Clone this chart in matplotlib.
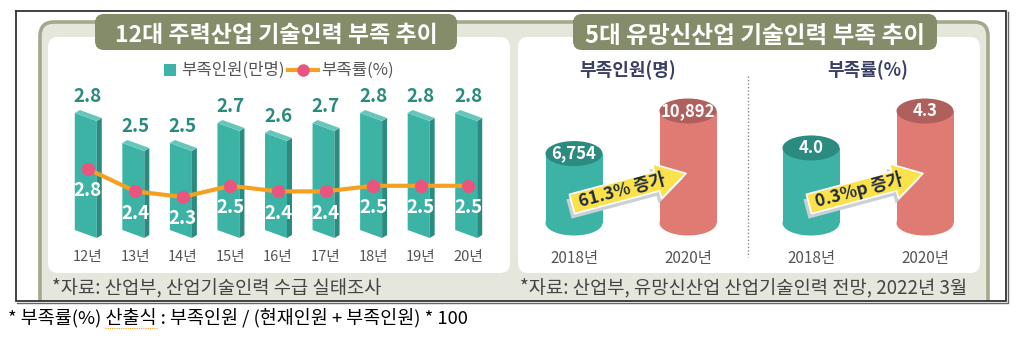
import numpy as np
import matplotlib
matplotlib.use("Agg")
import matplotlib.pyplot as plt
from matplotlib.patches import Polygon, Rectangle, FancyBboxPatch, Ellipse

plt.rcParams['font.family'] = ['Noto Sans CJK KR', 'DejaVu Sans']

# 12대 주력산업 기술인력 부족 추이
years = ['12년', '13년', '14년', '15년', '16년', '17년', '18년', '19년', '20년']
shortage = [2.8, 2.5, 2.5, 2.7, 2.6, 2.7, 2.8, 2.8, 2.8]   # 부족인원(만명)
rate = [2.8, 2.4, 2.3, 2.5, 2.4, 2.4, 2.5, 2.5, 2.5]       # 부족률(%)

# 5대 유망신산업 기술인력 부족 추이
new_years = ['2018년', '2020년']
new_people = [6754, 10892]      # 부족인원(명)
new_rate = [4.0, 4.3]           # 부족률(%)
people_change = '61.3% 증가'
rate_change = '0.3%p 증가'

W, H = 1024, 342
fig = plt.figure(figsize=(W / 100, H / 100), dpi=100)


def box(x0, y0, x1, y1):
    return [x0 / W, 1 - y1 / H, (x1 - x0) / W, (y1 - y0) / H]


teal, teal_side, teal_top, teal_txt = '#3cb3a5', '#2b8b80', '#66c6b9', '#2b8a7e'
red, red_top = '#e07b74', '#b0605c'
olive, olive_edge, panel_bg = '#858c69', '#a3a98a', '#e5e7dc'
gray_txt = '#555555'

# background: frame, panel, banners
bg = fig.add_axes([0, 0, 1, 1])
bg.set_xlim(0, W)
bg.set_ylim(H, 0)
bg.axis('off')

clip = Rectangle((16, 11), 990, 290, fill=False, ec='none')
bg.add_patch(clip)

panel = FancyBboxPatch((40, 22), 948, 300, boxstyle='round,pad=0,rounding_size=14',
                       fc=panel_bg, ec=olive_edge, lw=2.6)
bg.add_patch(panel)
panel.set_clip_path(clip)
for x0 in [48, 518]:
    bg.add_patch(FancyBboxPatch((x0, 37), 462, 236, boxstyle='round,pad=0,rounding_size=10',
                                fc='white', ec='none'))

titles = ['12대 주력산업 기술인력 부족 추이', '5대 유망신산업 기술인력 부족 추이']
sizes = [16.5, 17]
for (x0, x1), t, fs in zip([(95, 457), (573, 937)], titles, sizes):
    bg.add_patch(FancyBboxPatch((x0, 14), x1 - x0, 36, boxstyle='round,pad=0,rounding_size=9',
                                fc=olive, ec='none'))
    bg.add_patch(Rectangle((x0, 20), x1 - x0, 12, fc=olive, ec='none'))
    bg.text((x0 + x1) / 2, 36, t, ha='center', va='center', color='white',
            fontsize=fs, fontweight='bold')

# outer frame
bg.plot([16, 1006, 1006, 16, 16], [11, 11, 301, 301, 11], color='#333333', lw=1.3,
        zorder=20, solid_joinstyle='miter')
bg.plot([17, 1007.5, 1007.5], [302.5, 302.5, 12], color='#666666', lw=1, zorder=20)

# legend
bg.add_patch(Rectangle((164, 64), 12, 12, fc=teal, ec='none'))
bg.text(181, 70, '부족인원(만명)', ha='left', va='center', fontsize=12, color=gray_txt)
bg.plot([288, 318], [70, 70], color='#f4a020', lw=3)
bg.plot([303], [70], 'o', color='#e9557e', ms=8)
bg.text(321, 70, '부족률(%)', ha='left', va='center', fontsize=12, color=gray_txt)

# subtitles + divider
bg.text(628, 70, '부족인원(명)', ha='center', va='center', fontsize=13,
        fontweight='bold', color='#3a3f66')
bg.text(868, 70, '부족률(%)', ha='center', va='center', fontsize=13,
        fontweight='bold', color='#3a3f66')
bg.plot([748, 748], [76, 257], color='#888888', lw=1, ls=(0, (1, 1.5)))

# sources
bg.text(52, 288, '*자료: 산업부, 산업기술인력 수급 실태조사', ha='left', va='center',
        fontsize=13.5, color='#444444')
bg.text(520, 288, '*자료: 산업부, 유망신산업 산업기술인력 전망, 2022년 3월', ha='left',
        va='center', fontsize=13.5, color='#444444')

# footnote
bg.text(8, 318, '* 부족률(%) 산출식 : 부족인원 / (현재인원 + 부족인원) * 100', ha='left',
        va='center', fontsize=13.3, color='black')
bg.plot([105, 157], [328, 328], color='#f0a030', lw=0.8, ls=(0, (1, 1)))

# ---- 12대 bars ----
ax = fig.add_axes(box(64, 80, 492, 240))
ax.patch.set_visible(False)
ax.set_xlim(-0.5, 8.5)
ax.set_ylim(1.5, 3.1)
for s in ax.spines.values():
    s.set_visible(False)
ax.set_yticks([])
ax.set_xticks(range(len(years)))
ax.set_xticklabels(years, fontsize=10.5, color=gray_txt)
ax.tick_params(axis='x', length=0, pad=7)

ux = 9 / 428
uy = 1.6 / 160
base = 1.6
for i, v in enumerate(shortage):
    def p(dx, dy, top=True):
        return (i + dx * ux, (v if top else base) - dy * uy)
    ax.add_patch(Polygon([p(-13, 3), p(9, 11), p(9, 8, False), p(-13, 0, False)],
                         closed=True, fc=teal, ec='none'))
    ax.add_patch(Polygon([p(9, 11), p(14, 8), p(14, 5, False), p(9, 8, False)],
                         closed=True, fc=teal_side, ec='none'))
    ax.add_patch(Polygon([p(-13, 3), p(-8, 0), p(14, 8), p(9, 11)],
                         closed=True, fc=teal_top, ec='none'))
    ax.annotate(f'{v:.1f}', (i, v), xytext=(0, 13), textcoords='offset pixels',
                ha='center', va='center', color=teal_txt, fontsize=13.5, fontweight='bold')

rx = ax.twinx()
rx.set_ylim(1.532, 4.389)
rx.axis('off')
rx.plot(range(len(rate)), rate, color='#f4a020', lw=3, zorder=3)
rx.plot(range(len(rate)), rate, 'o', color='#e9557e', ms=8.5, zorder=4)
for i, r in enumerate(rate):
    rx.annotate(f'{r:.1f}', (i, r), xytext=(0, -22), textcoords='offset pixels',
                ha='center', va='center', color='white', fontsize=13.5, fontweight='bold')


# ---- 5대 cylinders ----
def cylinders(pos, vals, ylim, base, labels):
    cx = fig.add_axes(box(*pos))
    cx.set_xlim(-0.5, 1.5)
    cx.set_ylim(*ylim)
    cx.axis('off')
    upp = (ylim[1] - ylim[0]) / 170
    eh = 25 * upp
    for i, v in enumerate(vals):
        body, top = (teal, teal_side) if i == 0 else (red, red_top)
        cx.add_patch(Ellipse((i, base), 0.5, eh, fc=body, ec='none'))
        cx.add_patch(Rectangle((i - 0.25, base), 0.5, v - base, fc=body, ec='none'))
        cx.add_patch(Ellipse((i, v), 0.5, eh, fc=top, ec='none'))
        cx.text(i, v, labels[i], ha='center', va='center', color='white',
                fontsize=12, fontweight='bold')
        cx.annotate(new_years[i], (i, 0), xycoords=('data', 'axes fraction'),
                    xytext=(0, -8), textcoords='offset pixels', ha='center', va='center',
                    fontsize=11, color=gray_txt)
    return cx


cylinders((517, 80, 745, 250), new_people, (-2626, 13907), 0,
          [f'{v:,}' for v in new_people])
cylinders((754, 80, 982, 250), new_rate, (3.171, 4.552), 3.39,
          [f'{v:.1f}' for v in new_rate])

# ---- arrows ----
fg = fig.add_axes([0, 0, 1, 1], zorder=5)
fg.set_xlim(0, W)
fg.set_ylim(H, 0)
fg.axis('off')


def arrow(x0, y0, text, ang=15, L=118, h=10, hh=18, hl=30):
    a = np.deg2rad(ang)
    u = np.array([np.cos(a), -np.sin(a)])
    n = np.array([np.sin(a), np.cos(a)])
    loc = [(0, -h), (L - hl, -h), (L - hl, -hh), (L, 0), (L - hl, hh), (L - hl, h), (0, h)]
    pts = np.array([[x0, y0] + s * u + t * n for s, t in loc])
    fg.add_patch(Polygon(pts + [-3, 5], closed=True, fc='#c9d0d8', ec='none'))
    fg.add_patch(Polygon(pts, closed=True, fc='#fbe24b', ec='white', lw=1.2, joinstyle='round'))
    c = np.array([x0, y0]) + 0.44 * L * u
    fg.text(c[0], c[1], text, ha='center', va='center', rotation=ang, rotation_mode='anchor',
            fontsize=12.5, fontweight='bold', color='#1f2a44')


arrow(572, 204, people_change)
arrow(809, 204, rate_change)

fig.savefig('out.png', dpi=100)
